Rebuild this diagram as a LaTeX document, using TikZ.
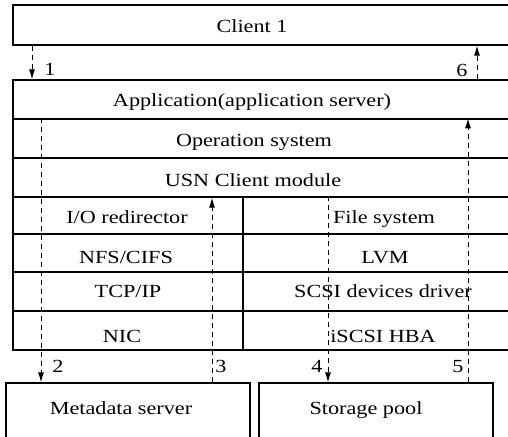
\documentclass[tikz,border=0pt]{standalone}
\usepackage{fontspec}
\setmainfont[FakeStretch=1.2]{Liberation Serif}
\usetikzlibrary{arrows.meta}

\tikzset{
  layer/.style={draw, line width=1.3pt, rectangle, inner sep=0pt},
  flow/.style={line width=1pt, dash pattern=on 5pt off 4pt, -{Latex[length=10pt,width=6pt]}},
  txt/.style={font=\fontsize{18.5}{20}\selectfont, inner sep=0pt, anchor=base}
}

\begin{document}
\begin{tikzpicture}[x=1pt,y=-1pt]
\useasboundingbox (0,0) rectangle (508,436);

% client and server layers
\node[layer, minimum width=502pt, minimum height=40pt] (client) at (264,25) {};
\node[layer, minimum width=502pt, minimum height=39pt] (app) at (264,99.5) {};
\node[layer, minimum width=502pt, minimum height=39pt] (os) at (264,138.5) {};
\node[layer, minimum width=502pt, minimum height=39pt] (usn) at (264,177.5) {};

\node[layer, minimum width=230pt, minimum height=37pt] (io) at (128,215.5) {};
\node[layer, minimum width=230pt, minimum height=38pt] (nfs) at (128,253) {};
\node[layer, minimum width=230pt, minimum height=39pt] (tcp) at (128,291.5) {};
\node[layer, minimum width=230pt, minimum height=39pt] (nic) at (128,330.5) {};

\node[layer, minimum width=272pt, minimum height=37pt] (fs) at (379,215.5) {};
\node[layer, minimum width=272pt, minimum height=38pt] (lvm) at (379,253) {};
\node[layer, minimum width=272pt, minimum height=39pt] (scsi) at (379,291.5) {};
\node[layer, minimum width=272pt, minimum height=39pt] (hba) at (379,330.5) {};

% servers below
\node[layer, minimum width=244pt, minimum height=67pt] (meta) at (128,416.5) {};
\node[layer, minimum width=234pt, minimum height=67pt] (pool) at (376,416.5) {};

% texts
\node[txt] (tclient) at (252,33) {Client 1};
\node[txt] (tapp) at (252,106) {Application(application server)};
\node[txt] (tos) at (254,146) {Operation system};
\node[txt] (tusn) at (253,186) {USN Client module};
\node[txt] (tio) at (127,223) {I/O redirector};
\node[txt] (tnfs) at (126,263) {NFS/CIFS};
\node[txt] (ttcp) at (128,297) {TCP/IP};
\node[txt] (tnic) at (122,342) {NIC};
\node[txt] (tfs) at (384,223) {File system};
\node[txt] (tlvm) at (385,263) {LVM};
\node[txt] (tscsi) at (383,297) {SCSI devices driver};
\node[txt] (thba) at (383,342) {iSCSI HBA};
\node[txt] (tmeta) at (121,414) {Metadata server};
\node[txt] (tpool) at (366,414) {Storage pool};

% request flow
\coordinate (x1) at (32,0);
\coordinate (x2) at (41,0);
\coordinate (x3) at (212,0);
\coordinate (x4) at (328,0);
\coordinate (x5) at (468,0);
\coordinate (x6) at (477,0);

\draw[flow] (x1 |- client.south) -- (x1 |- app.north);
\draw[flow] (x2 |- os.north) -- (x2 |- meta.north);
\draw[flow] (x3 |- meta.north) -- (x3 |- usn.south);
\draw[flow] (x4 |- fs.north) -- (x4 |- pool.north);
\draw[flow] (x5 |- pool.north) -- (x5 |- os.north);
\draw[flow] (x6 |- app.north) -- (x6 |- client.south);

\node[txt] (n1) at (50,75) {1};
\node[txt] (n2) at (58,372) {2};
\node[txt] (n3) at (221,372) {3};
\node[txt] (n4) at (317,372) {4};
\node[txt] (n5) at (458,372) {5};
\node[txt] (n6) at (462,77) {6};
\end{tikzpicture}
\end{document}
